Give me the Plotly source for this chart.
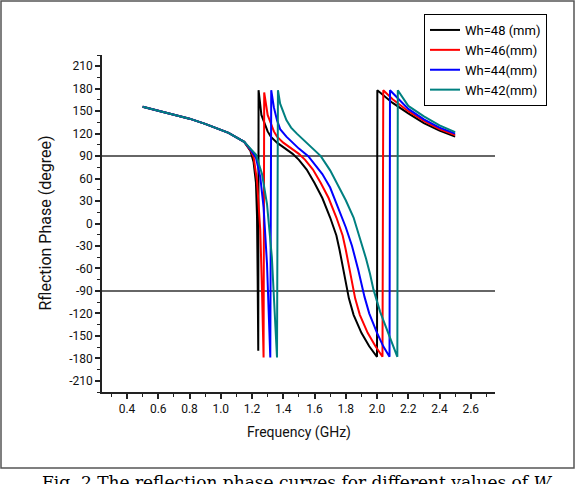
import plotly.graph_objects as go

# ---- data ----
names = ["Wh=48 (mm)", "Wh=46(mm)", "Wh=44(mm)", "Wh=42(mm)"]
colors = ["#000000", "#ff0000", "#0000ff", "#008080"]

common_f = [0.5, 0.6, 0.7, 0.8, 0.9, 1.0, 1.05, 1.1, 1.15]
common_p = [156, 151, 146, 140, 133, 125, 121, 115, 109]

f48 = [1.19, 1.21, 1.225, 1.232, 1.236, 1.24, 1.242, 1.26, 1.3, 1.32, 1.36, 1.42, 1.46, 1.5, 1.55, 1.6, 1.65, 1.7, 1.74, 1.76, 1.78, 1.8, 1.82, 1.85, 1.9, 1.95, 2.0, 2.002, 2.1, 2.2, 2.3, 2.4, 2.5]
p48 = [97, 82, 55, 10, -70, -170, 178, 145, 123, 116, 108, 99, 93, 85, 72, 54, 34, 8, -16, -35, -57, -80, -100, -122, -146, -164, -178, 178, 161, 147, 134, 124, 116]

f46 = [1.19, 1.21, 1.232, 1.253, 1.264, 1.274, 1.278, 1.3, 1.34, 1.36, 1.4, 1.46, 1.5, 1.54, 1.59, 1.64, 1.69, 1.74, 1.78, 1.8, 1.82, 1.84, 1.86, 1.89, 1.94, 1.99, 2.035, 2.04, 2.1, 2.2, 2.3, 2.4, 2.5]
p46 = [98, 89, 57, -9, -90, -179, 175, 145, 123, 116, 108, 99, 93, 85, 72, 54, 34, 8, -16, -35, -57, -80, -100, -122, -146, -164, -178, 178, 166, 150, 137, 126, 118]

f44 = [1.19, 1.225, 1.253, 1.274, 1.296, 1.306, 1.317, 1.323, 1.34, 1.36, 1.38, 1.42, 1.46, 1.5, 1.56, 1.6, 1.65, 1.7, 1.75, 1.8, 1.84, 1.86, 1.88, 1.9, 1.92, 1.95, 2.0, 2.04, 2.08, 2.083, 2.15, 2.2, 2.3, 2.4, 2.5]
p44 = [99, 88, 62, 22, -54, -107, -179, 178, 155, 138, 126, 116, 108, 100, 90, 80, 66, 48, 22, -5, -30, -45, -62, -80, -98, -120, -146, -164, -178, 178, 163, 153, 139, 128, 120]

f42 = [1.19, 1.225, 1.264, 1.296, 1.327, 1.344, 1.36, 1.366, 1.38, 1.42, 1.45, 1.487, 1.54, 1.59, 1.64, 1.7, 1.75, 1.8, 1.85, 1.89, 1.93, 1.955, 1.977, 2.02, 2.083, 2.13, 2.133, 2.2, 2.3, 2.4, 2.5]
p42 = [100, 92, 66, 26, -45, -107, -179, 178, 160, 138, 128, 120, 110, 100, 90, 71, 52, 31, 8, -18, -47, -67, -88, -118, -153, -178, 178, 157, 143, 131, 122]

series_f = [f48, f46, f44, f42]
series_p = [p48, p46, p44, p42]

x_ticks = [0.4, 0.6, 0.8, 1.0, 1.2, 1.4, 1.6, 1.8, 2.0, 2.2, 2.4, 2.6]
x_labels = ["0.4", "0.6", "0.8", "1.0", "1.2", "1.4", "1.6", "1.8", "2.0", "2.2", "2.4", "2.6"]
y_ticks = list(range(-210, 211, 30))
y_labels = [str(v) for v in y_ticks]
ref_lines = [90, -90]

x_title = "Frequency (GHz)"
y_title = "Rflection Phase (degree)"
caption = "Fig. 2 The reflection phase curves for different values of <i>W</i>"

# ---- figure ----
W, H = 576, 484
L, R, T, B = 102, 81, 55, 92
pw, ph = W - L - R, H - T - B


def px(x):
    return (x - L) / pw


def py(y):
    return (H - B - y) / ph


FONT = "Roboto, Liberation Sans, sans-serif"

fig = go.Figure()
for n, c, fs, ps in zip(names, colors, series_f, series_p):
    fig.add_trace(go.Scatter(x=common_f + fs, y=common_p + ps, mode="lines",
                             name=n, line=dict(color=c, width=2)))

for v in ref_lines:
    fig.add_shape(type="line", xref="paper", yref="y", x0=0, x1=1, y0=v, y1=v,
                  line=dict(color="#333333", width=1.5), layer="below")

# outer frame
fig.add_shape(type="rect", xref="paper", yref="paper",
              x0=px(1), x1=px(574), y0=py(468), y1=py(1),
              line=dict(color="#555555", width=1.5))

fig.add_annotation(text=x_title, xref="paper", yref="paper", x=0.5, y=py(432),
                   xanchor="center", yanchor="middle", showarrow=False,
                   font=dict(family=FONT, size=14, color="#111"))
fig.add_annotation(text=y_title, xref="paper", yref="paper", x=px(45), y=0.5,
                   xanchor="center", yanchor="middle", showarrow=False, textangle=-90,
                   font=dict(family=FONT, size=16, color="#111"))
fig.add_annotation(text=caption, xref="paper", yref="paper", x=px(40), y=py(470),
                   xanchor="left", yanchor="top", showarrow=False,
                   font=dict(family="DejaVu Serif, serif", size=17, color="#000"))

axis_common = dict(showline=True, linecolor="#222", linewidth=1.5, mirror=False,
                   showgrid=False, zeroline=False, ticks="outside", ticklen=5,
                   tickwidth=1.5, tickcolor="#222", automargin=False,
                   tickfont=dict(family=FONT, size=12, color="#111"))

fig.update_xaxes(range=[0.24, 2.755], tickmode="array", tickvals=x_ticks, ticktext=x_labels,
                 minor=dict(dtick=0.1, tick0=0, ticks="outside", ticklen=3, tickwidth=1.2,
                            tickcolor="#222"),
                 **axis_common)
fig.update_yaxes(range=[-225, 225], tickmode="array", tickvals=y_ticks, ticktext=y_labels,
                 minor=dict(dtick=15, tick0=0, ticks="outside", ticklen=3, tickwidth=1.2,
                            tickcolor="#222"),
                 **axis_common)

fig.update_layout(
    width=W, height=H, margin=dict(l=L, r=R, t=T, b=B),
    paper_bgcolor="white", plot_bgcolor="white",
    showlegend=True,
    legend=dict(x=px(424), y=py(14), xanchor="left", yanchor="top",
                bgcolor="white", bordercolor="#000", borderwidth=1,
                font=dict(family=FONT, size=13, color="#000"),
                itemwidth=30, tracegroupgap=0),
)

fig.write_html("out.html")
